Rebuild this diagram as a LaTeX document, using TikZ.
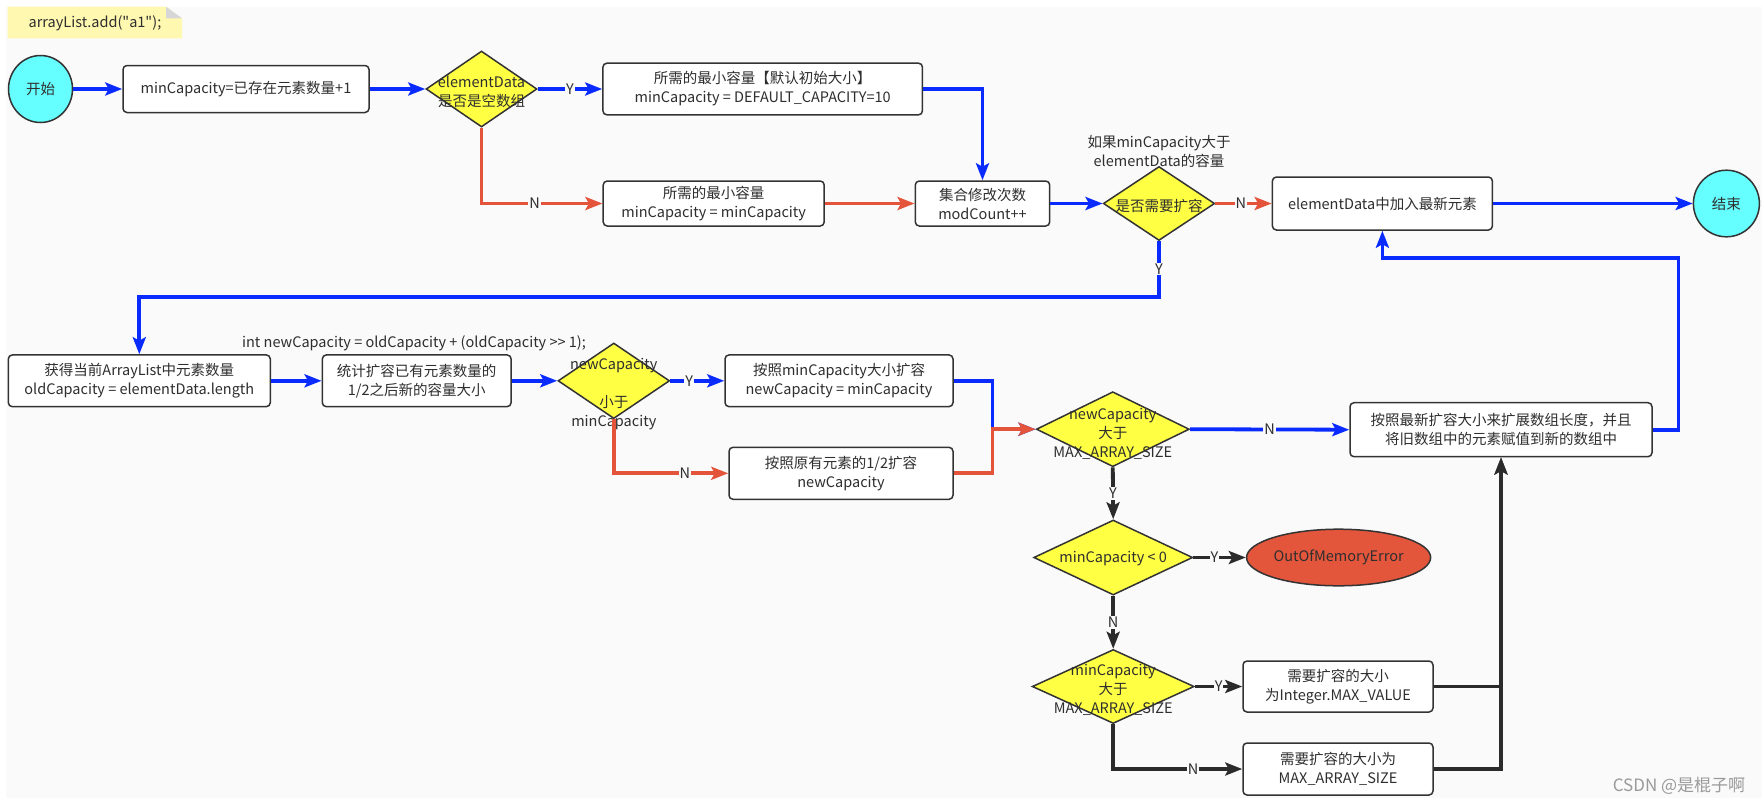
\documentclass[tikz,border=0pt]{standalone}
\usepackage{fontspec}
\setmainfont{Noto Sans CJK SC}
\newfontfamily\notefont{Noto Sans CJK SC}[Ligatures=TeXOff]
\usetikzlibrary{shapes.geometric,arrows.meta}
\definecolor{bg}{HTML}{FAFAFA}
\definecolor{txt}{HTML}{2E2E2E}
\definecolor{lineC}{HTML}{333333}
\definecolor{blueC}{HTML}{0A2BFF}
\definecolor{redC}{HTML}{E3543A}
\definecolor{blackC}{HTML}{2B2B2B}
\definecolor{yel}{HTML}{FFFF44}
\definecolor{cyanC}{HTML}{66FFFF}
\definecolor{oomC}{HTML}{E4563C}
\definecolor{noteC}{HTML}{FFF8B0}
\definecolor{foldC}{HTML}{D6D6D6}
\definecolor{wmC}{HTML}{9A9A9A}
\begin{document}
\begin{tikzpicture}[x=1pt,y=-1pt,
  font=\fontsize{14.5}{19}\selectfont, text=txt,
  box/.style={draw=lineC, line width=1.5pt, rounded corners=4pt, fill=white, inner sep=0pt, align=center},
  dia/.style={diamond, draw=lineC, line width=1.5pt, fill=yel, inner sep=0pt},
  term/.style={ellipse, draw=lineC, line width=1.5pt, fill=cyanC, inner sep=0pt},
  dtxt/.style={align=center, inner sep=0pt},
  tip/.style={-{Stealth[length=17pt,width=13pt,inset=3.5pt]}},
  bl/.style={draw=blueC, line width=3.8pt, tip},
  rd/.style={draw=redC, line width=3.8pt, tip},
  bk/.style={draw=blackC, line width=3.8pt, tip},
  lab/.style={fill=bg, inner sep=1pt, text=txt}]
\useasboundingbox (0,0) rectangle (1762,804);
\fill[white] (0,0) rectangle (1762,804);
\fill[bg] (6,7) rectangle (1762,798);
% note
\fill[noteC] (7.7,6.7) -- (166,6.7) -- (182,18.3) -- (182,38.3) -- (7.7,38.3) -- cycle;
\fill[foldC] (166,6.7) -- (182,18.3) -- (166,18.3) -- cycle;
\node[inner sep=0pt, font=\notefont\fontsize{14.5}{19}\selectfont] (note) at (95,23.5) {arrayList.add("a1");};
% row 1
\node[term, minimum width=64pt, minimum height=67pt] (start) at (40.5,89) {开始};
\node[box, minimum width=246pt, minimum height=47pt] (box1) at (246,89) {minCapacity=已存在元素数量+1};
\node[dia, minimum width=111pt, minimum height=76pt] (d1) at (481.5,89) {};
\node[dtxt] (d1t) at (481.5,92) {elementData\\是否是空数组};
\node[box, minimum width=319.5pt, minimum height=51.7pt] (box2) at (762.7,89) {所需的最小容量【默认初始大小】\\minCapacity = DEFAULT\_CAPACITY=10};
% row 2
\node[box, minimum width=221pt, minimum height=45pt] (box3) at (713.7,203.5) {所需的最小容量\\minCapacity = minCapacity};
\node[box, minimum width=134.4pt, minimum height=45pt] (box4) at (982.5,203.5) {集合修改次数\\modCount++};
\node[dia, minimum width=111.4pt, minimum height=74pt] (d2) at (1159,203.5) {};
\node[dtxt] (d2t) at (1159,206) {是否需要扩容};
\node[dtxt] (d2c) at (1159,151) {如果minCapacity大于\\elementData的容量};
\node[box, minimum width=220pt, minimum height=53pt] (box5) at (1382.4,203.5) {elementData中加入最新元素};
\node[term, minimum width=66pt, minimum height=66.6pt] (end) at (1726.4,203.5) {结束};
% row 3
\node[box, minimum width=262pt, minimum height=51.7pt] (box6) at (139.3,380.8) {获得当前ArrayList中元素数量\\oldCapacity = elementData.length};
\node[dtxt] (code) at (414,343.5) {int newCapacity = oldCapacity + (oldCapacity >{}> 1);};
\node[box, minimum width=188.8pt, minimum height=51.7pt] (box7) at (416.7,380.8) {统计扩容已有元素数量的\\1/2之后新的容量大小};
\node[dia, minimum width=111.6pt, minimum height=75.6pt] (d3) at (613.8,380.8) {};
\node[dtxt] (d3t) at (613.8,394) {newCapacity\\[19pt]小于\\minCapacity};
\node[box, minimum width=228pt, minimum height=51.7pt] (box8) at (839,380.8) {按照minCapacity大小扩容\\newCapacity = minCapacity};
\node[box, minimum width=224pt, minimum height=52pt] (box9) at (841,473.3) {按照原有元素的1/2扩容\\newCapacity};
\node[dia, minimum width=153pt, minimum height=75pt] (d4) at (1112.8,429.2) {};
\node[dtxt] (d4t) at (1112.8,434) {newCapacity\\大于\\MAX\_ARRAY\_SIZE};
\node[box, minimum width=302pt, minimum height=54pt] (box10) at (1501,429.7) {按照最新扩容大小来扩展数组长度，并且\\将旧数组中的元素赋值到新的数组中};
% lower column
\node[dia, minimum width=159pt, minimum height=75pt] (d5) at (1113.2,557.5) {};
\node[dtxt] (d5t) at (1113.2,559) {minCapacity < 0};
\node[ellipse, draw=lineC, line width=1.5pt, fill=oomC, inner sep=0pt, minimum width=181.6pt, minimum height=56.6pt] (oom) at (1338.6,557.5) {OutOfMemoryError};
\node[dia, minimum width=162pt, minimum height=74pt] (d6) at (1113.2,686.5) {};
\node[dtxt] (d6t) at (1113.2,690) {minCapacity\\大于\\MAX\_ARRAY\_SIZE};
\node[box, minimum width=190pt, minimum height=51pt] (box11) at (1338,686.5) {需要扩容的大小\\为Integer.MAX\_VALUE};
\node[box, minimum width=190pt, minimum height=52pt] (box12) at (1338,769) {需要扩容的大小为\\MAX\_ARRAY\_SIZE};
\node[text=wmC, inner sep=0pt, font=\fontsize{17}{20}\selectfont] (wm) at (1679,786) {CSDN @是棍子啊};
% connectors
\draw[bl] (start) -- (box1);
\draw[bl] (box1) -- (d1);
\draw[bl] (d1.east) -- node[lab]{Y} (box2.west);
\draw[rd] (d1.south) |- node[lab,pos=0.72]{N} (box3.west);
\draw[bl] (box2.east) -| (box4.north);
\draw[rd] (box3) -- (box4);
\draw[bl] (box4) -- (d2);
\draw[rd] (d2.east) -- node[lab,pos=0.45]{N} (box5.west);
\draw[bl] (box5) -- (end);
\draw[bl] (d2.south) -- node[lab]{Y} (1159,296.7) -| (box6.north);
\draw[bl] (box6) -- (box7);
\draw[bl] (box7) -- (d3);
\draw[bl] (d3.east) -- node[lab,pos=0.35]{Y} (box8.west);
\draw[rd] (d3.south) |- node[lab,pos=0.81]{N} (box9.west);
\draw[bl] (box8.east) -- (992.5,380.8) |- (d4.west);
\draw[rd] (box9.east) -- (992.5,473.3) |- (d4.west);
\draw[bl] (d4.east) -- node[lab]{N} (box10.west);
\draw[bk] (d4.south) -- node[lab]{Y} (d5.north);
\draw[bk] (d5.east) -- node[lab,pos=0.4]{Y} (oom.west);
\draw[bk] (d5.south) -- node[lab]{N} (d6.north);
\draw[bk] (d6.east) -- node[lab]{Y} (box11.west);
\draw[bk] (d6.south) |- node[lab,pos=0.81]{N} (box12.west);
\draw[bk] (box11.east) -| (box10.south);
\draw[bk] (box12.east) -| (box10.south);
\draw[bl] (box10.east) -- (1678.4,429.7) -- (1678.4,258.3) -| (box5.south);
\end{tikzpicture}
\end{document}
